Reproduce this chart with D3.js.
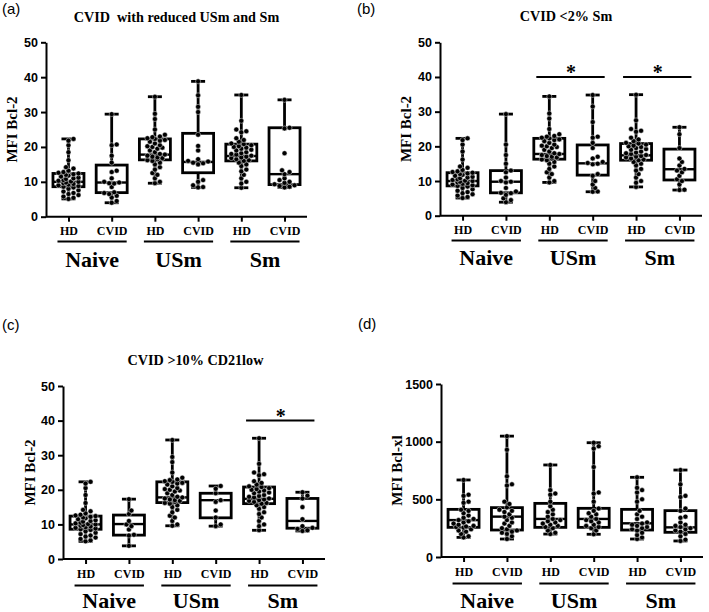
<!DOCTYPE html>
<html>
<head>
<meta charset="utf-8">
<script src="https://cdn.jsdelivr.net/npm/d3@7"></script>
<style>
  html, body { margin: 0; padding: 0; background: #fff; }
  svg { display: block; }
</style>
</head>
<body>
<svg id="chart" width="709" height="612"></svg>
<script>
// ---------------- DATA ----------------
const groups = ["Naive", "USm", "Sm"];
const subgroups = ["HD", "CVID"];
const bcl2Ticks = [0, 10, 20, 30, 40, 50];
const bclxlTicks = [0, 500, 1000, 1500];

// Bcl-2, healthy donors (shared by panels a, b, c)
const hdBcl2Naive = [22.3, 21.8, 20.5, 18.5, 16.2, 14.2, 13.8, 13.2, 13.0, 12.8, 12.6, 12.4, 12.2, 12.0, 11.8, 11.5, 11.2, 11.0, 10.8, 10.5, 10.3, 10.1, 10.0, 9.8, 9.6, 9.4, 9.2, 9.0, 8.8, 8.6, 8.4, 8.0, 7.6, 7.2, 6.8, 6.5, 6.2, 5.8, 5.4, 5.1];
const hdBcl2USm = [34.4, 29.5, 28.0, 25.0, 23.5, 23.0, 22.8, 22.5, 22.3, 22.0, 21.8, 21.5, 21.0, 20.5, 20.2, 20.0, 19.8, 19.5, 19.0, 18.5, 18.0, 17.8, 17.5, 17.2, 17.0, 16.8, 16.5, 16.2, 16.0, 15.5, 15.0, 14.2, 13.5, 12.5, 12.0, 11.0, 10.0, 9.6];
const hdBcl2Sm = [34.9, 27.5, 25.0, 24.5, 24.2, 22.5, 22.0, 21.5, 21.0, 20.8, 20.5, 20.2, 20.0, 19.8, 19.5, 19.2, 19.0, 18.5, 18.2, 18.0, 17.8, 17.5, 17.2, 17.0, 16.8, 16.5, 16.2, 16.0, 15.5, 15.0, 14.5, 13.5, 13.0, 12.0, 11.0, 10.0, 9.5, 8.3];
// box stats: [min, q1, median, q3, max] for Naive, USm, Sm
const hdBcl2Box = [[5.1, 8.6, 10.0, 12.4, 22.3], [9.6, 16.3, 17.8, 22.3, 34.4], [8.3, 16.0, 17.4, 20.8, 34.9]];

// (a) CVID with reduced USm and Sm
const cvidReducedNaive = [29.4, 20.7, 20.5, 17.5, 15.5, 13.2, 12.8, 11.0, 10.0, 9.8, 9.6, 9.5, 8.5, 7.0, 6.8, 6.5, 6.0, 5.5, 4.5, 4.0];
const cvidReducedUSm = [38.8, 34.8, 31.5, 30.0, 23.5, 20.3, 19.0, 16.5, 16.0, 15.8, 15.5, 15.3, 15.0, 10.5, 10.0, 9.0, 8.5, 8.4];
const cvidReducedSm = [33.5, 25.5, 25.3, 18.2, 13.3, 12.8, 12.2, 11.0, 10.5, 10.0, 9.7, 9.3, 9.0, 8.8, 8.6, 8.4];
const cvidReducedBox = [[4.0, 6.9, 9.8, 14.8, 29.4], [8.4, 12.6, 15.7, 23.9, 38.8], [8.4, 9.2, 12.2, 25.5, 33.5]];

// (b) CVID <2% Sm
const cvidLowSmNaive = [29.3, 20.5, 17.5, 15.0, 13.0, 12.5, 11.0, 10.0, 9.8, 9.6, 8.0, 7.0, 6.6, 6.5, 6.0, 5.0, 4.5, 3.9];
const cvidLowSmUSm = [34.8, 31.5, 27.0, 22.8, 22.5, 21.0, 19.5, 17.0, 16.5, 15.5, 15.2, 15.0, 14.8, 12.0, 11.5, 10.0, 9.0, 8.0, 7.0, 6.9];
const cvidLowSmSm = [25.5, 23.5, 19.5, 16.5, 15.5, 14.5, 13.5, 13.0, 12.5, 11.5, 10.5, 10.0, 9.0, 7.5, 7.4];
const cvidLowSmBox = [[3.9, 6.6, 9.8, 13.0, 29.3], [6.9, 11.7, 15.1, 20.4, 34.8], [7.4, 10.3, 13.4, 19.2, 25.5]];

// (c) CVID >10% CD21low
const cvidCD21Naive = [17.3, 14.0, 13.0, 11.0, 10.0, 9.5, 8.5, 7.0, 6.8, 3.8];
const cvidCD21USm = [21.1, 20.3, 19.0, 17.0, 16.5, 14.0, 12.0, 10.0, 9.5];
const cvidCD21Sm = [19.3, 18.3, 17.5, 15.0, 11.5, 9.5, 9.0, 8.7, 8.3, 8.1];
const cvidCD21Box = [[3.8, 6.9, 10.1, 12.7, 17.3], [9.5, 11.9, 17.0, 19.0, 21.1], [8.1, 8.9, 11.0, 17.5, 19.3]];

// (d) Bcl-xl
const hdXlNaive = [668, 540, 530, 480, 470, 410, 400, 380, 360, 340, 330, 320, 310, 300, 290, 280, 270, 265, 260, 255, 240, 230, 220, 200, 180, 170];
const cvidXlNaive = [1048, 930, 700, 630, 620, 480, 460, 430, 410, 400, 390, 370, 350, 340, 320, 300, 290, 270, 250, 240, 230, 220, 210, 200, 180, 156];
const hdXlUSm = [798, 580, 550, 540, 480, 440, 410, 390, 370, 350, 330, 320, 310, 300, 290, 280, 270, 260, 250, 230, 210, 199];
const cvidXlUSm = [991, 960, 940, 780, 560, 550, 480, 420, 400, 380, 370, 350, 330, 320, 310, 300, 280, 270, 260, 250, 230, 197];
const hdXlSm = [691, 600, 580, 560, 500, 480, 400, 370, 350, 330, 300, 290, 280, 270, 260, 250, 240, 230, 210, 190, 170, 156];
const cvidXlSm = [754, 630, 530, 520, 420, 400, 350, 340, 300, 280, 270, 260, 250, 240, 230, 220, 200, 180, 150, 139];
const hdXlBox = [[170, 257, 320, 413, 668], [199, 257, 330, 465, 798], [156, 234, 292, 413, 691]];
const cvidXlBox = [[156, 234, 350, 428, 1048], [197, 257, 330, 422, 991], [139, 214, 257, 402, 754]];

// significance marks: [group index] per panel
const sigA = [];
const sigB = [1, 2];
const sigC = [2];
const sigD = [];
const sigLevel = 40; // value at which the bar is drawn

// ---------------- DRAWING ----------------
const svg = d3.select("#chart");
const SERIF = "'Liberation Serif', 'Times New Roman', serif";
const SANS = "'Liberation Sans', Arial, sans-serif";

function catKey(g, s) { return g + "|" + s; }
const catKeys = [];
groups.forEach(g => subgroups.forEach(s => catKeys.push(catKey(g, s))));

function swarm(vals, y, r, maxOff) {
  const placed = [];
  const sorted = vals.slice().sort((a, b) => a - b);
  const step = r * 1.0;
  const minD2 = (2 * r * 0.78) ** 2;
  sorted.forEach(v => {
    const py = y(v);
    let best = null;
    for (let k = 0; k <= 20 && best === null; k++) {
      const offs = k === 0 ? [0] : [k * step, -k * step];
      for (const o of offs) {
        if (Math.abs(o) > maxOff) continue;
        if (placed.every(p => (p.x - o) ** 2 + (p.y - py) ** 2 >= minD2)) { best = o; break; }
      }
    }
    if (best === null) best = ((placed.length % 5) - 2) * step;
    placed.push({ x: best, y: py, v });
  });
  return placed;
}

function panel(cfg) {
  const g = svg.append("g");
  const y = d3.scaleLinear().domain([cfg.ticks[0], cfg.ticks[cfg.ticks.length - 1]]).range([cfg.y0, cfg.y1]);
  const x = d3.scalePoint().domain(catKeys).range([cfg.x0, cfg.x1]).padding(0.52);

  // panel letter
  svg.append("text").attr("x", cfg.letterX).attr("y", cfg.letterY)
    .attr("font-family", SANS).attr("font-size", 15).text(cfg.letter);
  // title
  if (cfg.title) {
    svg.append("text").attr("x", cfg.titleX).attr("y", cfg.titleY).attr("text-anchor", "middle")
      .attr("font-family", SERIF).attr("font-weight", "bold").attr("font-size", 14.2)
      .style("white-space", "pre").attr("xml:space", "preserve").text(cfg.title);
  }
  // y axis
  const ya = g.append("g").attr("transform", `translate(${cfg.x0},0)`)
    .call(d3.axisLeft(y).tickValues(cfg.ticks).tickFormat(d3.format("d")).tickSize(5).tickPadding(3).tickSizeOuter(0));
  ya.selectAll("path, line").attr("stroke", "#000").attr("stroke-width", 2);
  ya.selectAll("text").attr("font-family", SANS).attr("font-weight", "bold").attr("font-size", 12.5).attr("fill", "#000");
  // y title
  svg.append("text")
    .attr("transform", `translate(${cfg.ytX},${(cfg.y0 + cfg.y1) / 2}) rotate(-90)`)
    .attr("text-anchor", "middle").attr("font-family", SERIF).attr("font-weight", "bold")
    .attr("font-size", 15).text(cfg.yTitle);
  // x axis
  const xa = g.append("g").attr("transform", `translate(0,${cfg.y0})`)
    .call(d3.axisBottom(x).tickSize(5).tickPadding(5).tickSizeOuter(0).tickFormat(d => d.split("|")[1]));
  xa.select(".domain").attr("d", `M${cfg.x0},0H${cfg.x1}`);
  xa.selectAll("path, line").attr("stroke", "#000").attr("stroke-width", 2);
  xa.selectAll("text").attr("font-family", SERIF).attr("font-weight", "bold").attr("font-size", 12).attr("fill", "#000");

  // group underlines and labels
  groups.forEach(gr => {
    const a = x(catKey(gr, "HD")), b = x(catKey(gr, "CVID"));
    g.append("line").attr("x1", a - 11).attr("x2", b + 15).attr("y1", cfg.lineY).attr("y2", cfg.lineY)
      .attr("stroke", "#000").attr("stroke-width", 1.8);
    g.append("text").attr("x", (a + b) / 2 + 2).attr("y", cfg.groupY).attr("text-anchor", "middle")
      .attr("font-family", SERIF).attr("font-weight", "bold").attr("font-size", 22).text(gr);
  });

  // boxes
  const boxW = 31, capW = 14, r = 2.5;
  cfg.series.forEach(s => {
    const cx = x(s.key);
    const [mn, q1, md, q3, mx] = s.box;
    const bg = g.append("g");
    bg.append("line").attr("x1", cx).attr("x2", cx).attr("y1", y(mx)).attr("y2", y(mn))
      .attr("stroke", "#000").attr("stroke-width", 2.8);
    bg.append("rect").attr("x", cx - boxW / 2).attr("y", y(q3)).attr("width", boxW).attr("height", y(q1) - y(q3))
      .attr("fill", "#fff").attr("stroke", "#000").attr("stroke-width", 2.8);
    [mn, mx].forEach(v => bg.append("line").attr("x1", cx - capW / 2).attr("x2", cx + capW / 2)
      .attr("y1", y(v)).attr("y2", y(v)).attr("stroke", "#000").attr("stroke-width", 2.8));
    bg.append("line").attr("x1", cx - boxW / 2).attr("x2", cx + boxW / 2).attr("y1", y(md)).attr("y2", y(md))
      .attr("stroke", "#000").attr("stroke-width", 2.4);
    const pts = swarm(s.points, y, r, 11);
    g.append("g").selectAll("circle").data(pts).join("circle")
      .attr("cx", d => cx + d.x).attr("cy", d => d.y).attr("r", r)
      .attr("fill", "#000").attr("stroke", "#fff").attr("stroke-width", 0.45);
  });

  // significance
  cfg.sig.forEach(gi => {
    const a = x(catKey(groups[gi], "HD")), b = x(catKey(groups[gi], "CVID"));
    const by = y(sigLevel);
    g.append("line").attr("x1", a - 13).attr("x2", b + 12).attr("y1", by).attr("y2", by)
      .attr("stroke", "#000").attr("stroke-width", 2);
    g.append("text").attr("x", (a + b) / 2).attr("y", by + 2).attr("text-anchor", "middle")
      .attr("font-family", SERIF).attr("font-weight", "bold").attr("font-size", 20).text("*");
  });
}

function mkSeries(hdPts, hdBox, cvPts, cvBox) {
  const out = [];
  groups.forEach((gr, i) => {
    out.push({ key: catKey(gr, "HD"), points: hdPts[i], box: hdBox[i] });
    out.push({ key: catKey(gr, "CVID"), points: cvPts[i], box: cvBox[i] });
  });
  return out;
}

const hdBcl2Pts = [hdBcl2Naive, hdBcl2USm, hdBcl2Sm];

panel({
  letter: "(a)", letterX: 2, letterY: 14,
  title: "CVID  with reduced USm and Sm", titleX: 176.5, titleY: 21.5,
  x0: 46, x1: 307, y0: 216.7, y1: 42.3, ticks: bcl2Ticks,
  yTitle: "MFI Bcl-2", ytX: 16.5, lineY: 241.5, groupY: 266.5,
  series: mkSeries(hdBcl2Pts, hdBcl2Box, [cvidReducedNaive, cvidReducedUSm, cvidReducedSm], cvidReducedBox),
  sig: sigA
});
panel({
  letter: "(b)", letterX: 357, letterY: 14,
  title: "CVID <2% Sm", titleX: 566, titleY: 21,
  x0: 440, x1: 702, y0: 215.7, y1: 42.3, ticks: bcl2Ticks,
  yTitle: "MFI Bcl-2", ytX: 411, lineY: 240.5, groupY: 265,
  series: mkSeries(hdBcl2Pts, hdBcl2Box, [cvidLowSmNaive, cvidLowSmUSm, cvidLowSmSm], cvidLowSmBox),
  sig: sigB
});
panel({
  letter: "(c)", letterX: 2, letterY: 329.5,
  title: "CVID >10% CD21low", titleX: 195.5, titleY: 365,
  x0: 63, x1: 325, y0: 559, y1: 386, ticks: bcl2Ticks,
  yTitle: "MFI Bcl-2", ytX: 35, lineY: 585.5, groupY: 608,
  series: mkSeries(hdBcl2Pts, hdBcl2Box, [cvidCD21Naive, cvidCD21USm, cvidCD21Sm], cvidCD21Box),
  sig: sigC
});
panel({
  letter: "(d)", letterX: 358, letterY: 329,
  title: null,
  x0: 441, x1: 703, y0: 557, y1: 384, ticks: bclxlTicks,
  yTitle: "MFI Bcl-xl", ytX: 401.5, lineY: 583.5, groupY: 608,
  series: mkSeries([hdXlNaive, hdXlUSm, hdXlSm], hdXlBox, [cvidXlNaive, cvidXlUSm, cvidXlSm], cvidXlBox),
  sig: sigD
});
</script>
</body>
</html>
